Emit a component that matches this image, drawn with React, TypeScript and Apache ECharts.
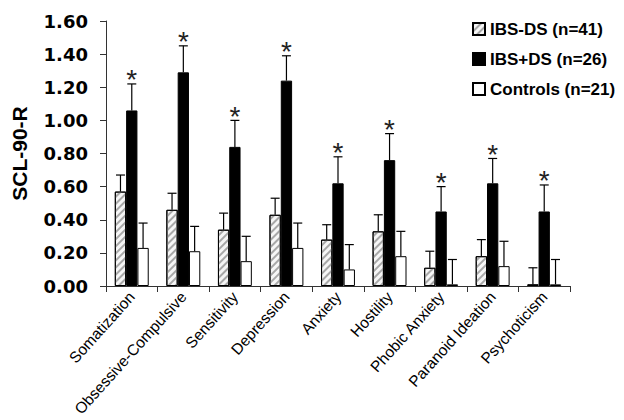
import React, { useEffect, useRef } from "react";
import * as echarts from "echarts";

const categories = [
  "Somatization",
  "Obsessive-Compulsive",
  "Sensitivity",
  "Depression",
  "Anxiety",
  "Hostility",
  "Phobic Anxiety",
  "Paranoid Ideation",
  "Psychoticism",
];
const seriesNames = ["IBS-DS (n=41)", "IBS+DS (n=26)", "Controls (n=21)"];
const ibsMinusDs = [0.57, 0.46, 0.34, 0.43, 0.28, 0.33, 0.11, 0.18, 0.01];
const ibsMinusDsErr = [0.1, 0.1, 0.1, 0.1, 0.09, 0.1, 0.1, 0.1, 0.1];
const ibsPlusDs = [1.06, 1.29, 0.84, 1.24, 0.62, 0.76, 0.45, 0.62, 0.45];
const ibsPlusDsErr = [0.16, 0.16, 0.16, 0.15, 0.16, 0.16, 0.15, 0.15, 0.16];
const controls = [0.23, 0.21, 0.15, 0.23, 0.1, 0.18, 0.01, 0.12, 0.01];
const controlsErr = [0.15, 0.15, 0.15, 0.15, 0.15, 0.15, 0.15, 0.15, 0.15];
const significant = [true, true, true, true, true, true, true, true, true];
const yTicks = [0, 0.2, 0.4, 0.6, 0.8, 1.0, 1.2, 1.4, 1.6];

const BAR_W = 11.3;
const FONT = "'Liberation Sans', Arial, sans-serif";

function errorSeries(means: number[], errs: number[], slot: number, stars: boolean) {
  return {
    type: "custom",
    z: 5,
    silent: true,
    data: means.map((m, i) => [i, m, errs[i], stars && significant[i] ? 1 : 0]),
    encode: { x: 0, y: 1 },
    renderItem: (params: any, api: any) => {
      const idx = api.value(0);
      const m = api.value(1);
      const e = api.value(2);
      const base = api.coord([idx, m]);
      const top = api.coord([idx, m + e]);
      const x = base[0] + slot * BAR_W;
      const children: any[] = [
        {
          type: "line",
          shape: { x1: x, y1: base[1], x2: x, y2: top[1] },
          style: { stroke: "#000", lineWidth: 1.2 },
        },
        {
          type: "line",
          shape: { x1: x - 4.5, y1: top[1], x2: x + 4.5, y2: top[1] },
          style: { stroke: "#000", lineWidth: 1.2 },
        },
      ];
      if (api.value(3) === 1) {
        children.push({
          type: "text",
          x: x,
          y: top[1] - 4,
          style: {
            text: "*",
            fill: "#222",
            font: `28px ${FONT}`,
            textAlign: "center",
            textVerticalAlign: "middle",
          },
        });
      }
      return { type: "group", children };
    },
  };
}

export default function App() {
  const ref = useRef<HTMLDivElement>(null);
  useEffect(() => {
    if (!ref.current) return;
    const chart = echarts.init(ref.current, null, { renderer: "svg" });
    const barBase = {
      type: "bar",
      barWidth: BAR_W,
      barGap: "0%",
    };
    chart.setOption({
      animation: false,
      backgroundColor: "#fff",
      grid: {
        left: 106,
        right: 54,
        top: 21,
        bottom: 134,
        containLabel: false,
        outerBoundsMode: "none",
      },
      legend: {
        orient: "vertical",
        left: 467,
        top: 14,
        icon: "rect",
        itemWidth: 12,
        itemHeight: 12,
        itemGap: 10,
        textStyle: {
          fontFamily: FONT,
          fontWeight: "bold",
          fontSize: 17,
          color: "#000",
          lineHeight: 20,
        },
        data: seriesNames,
      },
      xAxis: {
        type: "category",
        data: categories,
        axisLine: { lineStyle: { color: "#333", width: 1 } },
        axisTick: { show: true, length: 6, lineStyle: { color: "#333" } },
        axisLabel: {
          interval: 0,
          rotate: 48,
          margin: 8,
          fontFamily: FONT,
          fontSize: 15.5,
          color: "#000",
        },
      },
      yAxis: {
        type: "value",
        min: 0,
        max: 1.6,
        interval: 0.2,
        name: "SCL-90-R",
        nameLocation: "middle",
        nameGap: 76,
        nameTextStyle: {
          fontFamily: FONT,
          fontWeight: "bold",
          fontSize: 21,
          color: "#000",
        },
        splitLine: { show: false },
        axisLine: { show: true, lineStyle: { color: "#333", width: 1 } },
        axisTick: { show: true, length: 6, lineStyle: { color: "#333" } },
        axisLabel: {
          margin: 18,
          fontFamily: "'DejaVu Sans', sans-serif",
          fontWeight: "bold",
          fontSize: 18,
          color: "#000",
          formatter: (v: number) => (yTicks.includes(Math.round(v * 10) / 10) ? v.toFixed(2) : ""),
        },
      },
      series: [
        {
          ...barBase,
          name: seriesNames[0],
          data: ibsMinusDs,
          itemStyle: {
            color: "#f6f6f6",
            borderColor: "#000",
            borderWidth: 1,
            borderRadius: 0,
            decal: {
              symbol: "rect",
              symbolSize: 1,
              dashArrayX: [1, 0],
              dashArrayY: [1.2, 2.2],
              rotation: -Math.PI / 4,
              color: "#a8a8a8",
            },
          },
        },
        {
          ...barBase,
          name: seriesNames[1],
          data: ibsPlusDs,
          itemStyle: { color: "#000", borderColor: "#000", borderWidth: 1, borderRadius: 0 },
        },
        {
          ...barBase,
          name: seriesNames[2],
          data: controls,
          itemStyle: { color: "#fff", borderColor: "#000", borderWidth: 1, borderRadius: 0 },
        },
        errorSeries(ibsMinusDs, ibsMinusDsErr, -1, false),
        errorSeries(ibsPlusDs, ibsPlusDsErr, 0, true),
        errorSeries(controls, controlsErr, 1, false),
      ],
    });
    return () => chart.dispose();
  }, []);
  return <div ref={ref} style={{ width: 624, height: 420, position: "fixed", left: 0, top: 0 }} />;
}
